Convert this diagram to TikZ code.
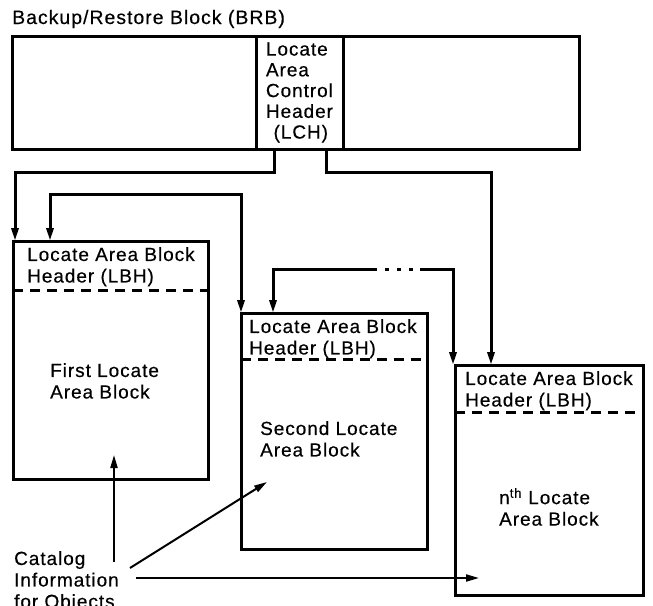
\documentclass[tikz,border=0pt]{standalone}
\usepackage{fontspec}
\setmainfont{Liberation Sans}[LetterSpace=5, FakeBold=0.4]
\usetikzlibrary{arrows.meta,positioning,calc}
\tikzset{
    blockbox/.style={
        draw,
        line width=3pt,
        inner sep=0pt,
        outer sep=0pt,
        anchor=north west
    },
    headerline/.style={
        line width=3pt,
        dash pattern=on 10pt off 7pt
    },
    % feed lines from the LCH and the chain between blocks
    feedarrow/.style={
        line width=3pt,
        -{Triangle[length=13pt, width=7pt]}
    },
    linkarrow/.style={
        line width=3pt,
        {Triangle[length=13pt, width=7pt]}-{Triangle[length=13pt, width=7pt]}
    },
    backarrow/.style={
        line width=3pt,
        {Triangle[length=13pt, width=7pt]}-
    },
    dotgap/.style={
        line width=3pt,
        dash pattern=on 4pt off 8pt,
        dash phase=4pt
    },
    infoarrow/.style={
        line width=2pt,
        -{Triangle[length=13pt, width=7pt]}
    }
}
\begin{document}
\begin{tikzpicture}[x=1pt, y=-1pt, font=\fontsize{19}{21.5}\selectfont]
	\useasboundingbox (0,0) rectangle (653,605);

	\node[anchor=base west, inner sep=0pt, font=\fontsize{19.5}{23}\selectfont] (title) at (12,24) {Backup/Restore Block (BRB)};

	\node[blockbox, minimum width=567pt, minimum height=113pt] (brb) at (12,36) {};
	\node[blockbox, minimum width=87pt, minimum height=113pt, align=left, font=\fontsize{19}{20.75}\selectfont] (lch) at (256,36) {Locate\\Area\\Control\\Header\\\hspace*{0.4em}(LCH)};

	\node[blockbox, minimum width=195pt, minimum height=238pt] (first) at (13,241) {};
	\node[blockbox, minimum width=186pt, minimum height=236pt] (second) at (241,313) {};
	\node[blockbox, minimum width=188pt, minimum height=230pt] (nth) at (455,365) {};

	\foreach \blk/\hd/\ind in {first/49/14, second/46/8, nth/47/10}{
		\draw[headerline] ([yshift=-\hd pt]\blk.north west) -- ([yshift=-\hd pt]\blk.north east);
		\node[anchor=north west, inner sep=0pt, align=left] (\blk-head) at ([xshift=\ind pt, yshift=-6pt]\blk.north west) {Locate Area Block\\Header (LBH)};
	}

	\node[anchor=north west, inner sep=0pt, align=left] (first-text) at (50,363) {First Locate\\Area Block};
	\node[anchor=north west, inner sep=0pt, align=left] (second-text) at (260,421) {Second Locate\\Area Block};
	\node[anchor=north west, inner sep=0pt, align=left] (nth-text) at (499,488) {n\textsuperscript{th} Locate\\Area Block};

	\node[anchor=north west, inner sep=0pt, align=left] (catalog) at (14,551) {Catalog\\Information\\for Objects};

	% LCH points to the first and the last block
	\draw[feedarrow] ([xshift=18pt]lch.south west) -- ++(0,23) -| ([xshift=2pt]first.north west);
	\draw[feedarrow] ([xshift=-17pt]lch.south east) -- ++(0,23) -| ([xshift=36pt]nth.north west);

	% chain between blocks
	\draw[linkarrow] ([xshift=37pt]first.north west) -- ++(0,-47) -| (second.north west);

	\coordinate (gapL) at (377,269);
	\coordinate (gapR) at (420,269);
	\draw[backarrow] ([xshift=32pt]second.north west) |- (gapL);
	\draw[dotgap] (gapL) -- (gapR);
	\draw[feedarrow] (gapR) -| ([xshift=-2pt]nth.north west);

	% catalog information pointers
	\coordinate (catUp) at (114,562);
	\coordinate (catDiag) at (130,568);
	\coordinate (catRight) at (136,578);
	\coordinate (firstIn) at (114,455);
	\coordinate (secondIn) at (267,482);
	\coordinate (nthIn) at (479,578);
	\draw[infoarrow] (catUp) -- (firstIn);
	\draw[infoarrow] (catDiag) -- (secondIn);
	\draw[infoarrow] (catRight) -- (nthIn);
\end{tikzpicture}
\end{document}
